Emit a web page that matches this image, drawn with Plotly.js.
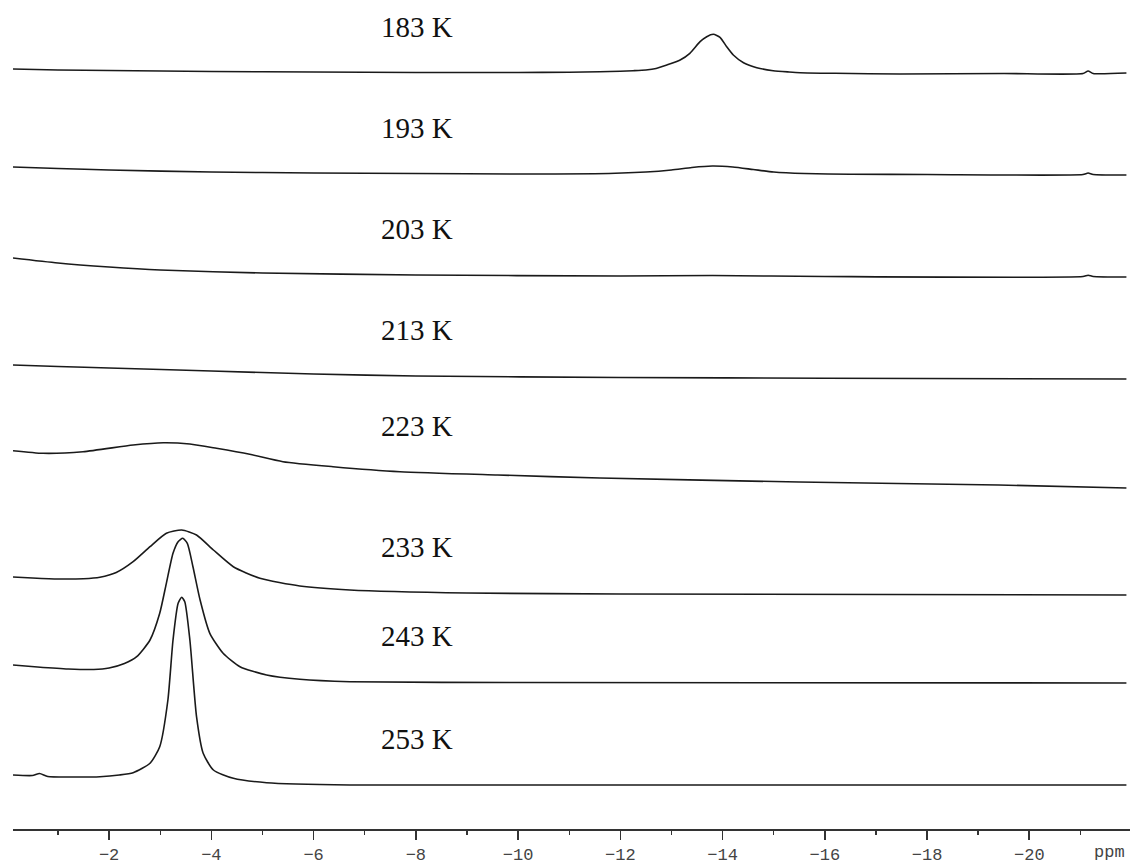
<!DOCTYPE html>
<html>
<head>
<meta charset="utf-8">
<script src="https://cdn.plot.ly/plotly-3.0.1.min.js"></script>
<style>
  html, body { margin: 0; padding: 0; background: #ffffff; }
  #chart { width: 1132px; height: 865px; }
</style>
</head>
<body>
<div id="chart"></div>
<script>
// ---- Data (chemical shift in ppm, intensity in arbitrary units) ----
const temperatures = ["183 K", "193 K", "203 K", "213 K", "223 K", "233 K", "243 K", "253 K"];

// vertical stacking offsets of each spectrum (arbitrary units)
const offsets = [756, 654, 552, 450, 341, 234, 146, 44];

const ppm183 = [-0.12, -1, -2, -4, -6, -8, -10, -11.0, -11.6, -12.0, -12.25, -12.5, -12.7, -12.91, -13.17, -13.36, -13.56, -13.69, -13.82, -13.95, -14.08, -14.21, -14.41, -14.67, -14.99, -15.3, -15.52, -16.2, -17.47, -19.5, -21.05, -21.15, -21.25, -21.9];
const int183 = [4, 3, 2.5, 1.5, 1, 0.5, 0.5, 0.8, 1.3, 1.8, 2.3, 3.0, 4.5, 8, 13, 19.7, 31.3, 36.3, 38.7, 35.7, 26.3, 18, 10.3, 5.3, 2.3, 1.0, 0.3, -0.3, -1, -0.5, -0.5, 2, -0.5, 0];

const ppm193 = [-0.12, -1, -2, -4, -6, -8, -10, -11.5, -12.5, -13.0, -13.4, -13.8, -14.2, -14.6, -15.0, -15.6, -16.5, -18, -21.05, -21.15, -21.25, -21.9];
const int193 = [8, 6.5, 5, 3, 2, 1.5, 1, 1.2, 3, 5, 7.5, 9, 8, 5.5, 3, 1.5, 0.8, 0.5, 0.5, 2, 0.5, 0];

const ppm203 = [-0.12, -1, -2, -3, -5, -8, -12, -13.8, -16, -21.05, -21.15, -21.25, -21.9];
const int203 = [19, 14, 10, 7, 4, 2, 1, 1.5, 0.5, 0.5, 1.8, 0.5, 0];

const ppm213 = [-0.12, -1, -2, -4, -6, -8, -12, -16, -21.9];
const int213 = [14, 12.5, 11, 8, 5, 3, 1.5, 0.8, 0];

const ppm223 = [-0.12, -0.71, -1.49, -2.47, -3.06, -3.58, -4.10, -4.75, -5.40, -6.38, -7.69, -9.6, -11.6, -15.5, -19.4, -21.9];
const int223 = [37.3, 34.7, 36.3, 43, 45.3, 44, 39.7, 33.7, 26.3, 21.3, 16.3, 13, 10, 6, 3, 0];

const ppm233 = [-0.12, -0.5, -1, -1.5, -1.82, -2.14, -2.47, -2.80, -3.12, -3.42, -3.71, -4.04, -4.43, -4.95, -5.73, -6.71, -9, -12, -21.9];
const int233 = [18, 17, 16, 16.3, 17.8, 22.5, 33.3, 48.3, 61.7, 65, 60, 45, 28.3, 16.7, 9, 5, 2, 1, 0];

const ppm243 = [-0.12, -0.6, -1.2, -1.7, -2.0, -2.3, -2.54, -2.80, -2.99, -3.12, -3.25, -3.35, -3.44, -3.53, -3.64, -3.78, -3.97, -4.23, -4.56, -5.08, -5.73, -6.71, -10, -21.9];
const int243 = [18, 16, 14, 13.5, 15, 19.5, 26.3, 43, 69.7, 99.7, 129.7, 141.3, 144.7, 139.7, 116.3, 83, 49.7, 29.7, 16.3, 8, 3.7, 1.3, 0.5, 0];

const ppm253 = [-0.12, -0.5, -0.64, -0.8, -1.3, -1.82, -2.2, -2.47, -2.80, -2.99, -3.15, -3.25, -3.35, -3.42, -3.48, -3.58, -3.71, -3.84, -4.04, -4.43, -5.08, -6.71, -21.9];
const int253 = [10, 9.5, 11.5, 8.5, 8, 8.3, 10, 12.3, 21.7, 38.3, 85, 145, 181.7, 187.7, 183.3, 145, 68.3, 31.7, 15, 6.7, 2.3, 0, 0];

const ppmSets = [ppm183, ppm193, ppm203, ppm213, ppm223, ppm233, ppm243, ppm253];
const intSets = [int183, int193, int203, int213, int223, int233, int243, int253];

// axis tick labels
const tickValues = [-2, -4, -6, -8, -10, -12, -14, -16, -18, -20];
const axisUnit = "ppm";

// ---- Build traces ----
const traces = temperatures.map((t, i) => ({
  type: "scatter",
  mode: "lines",
  name: t,
  x: ppmSets[i],
  y: intSets[i].map(v => v + offsets[i]),
  line: { color: "#1a1a1a", width: 1.6, shape: "spline", smoothing: 0.6 },
  hoverinfo: "skip",
  showlegend: false
}));

// label anchor: ppm position of the temperature labels
const labelPpm = -8.02;
function nearestIntensity(i, p) {
  const xs = ppmSets[i];
  let best = 0, d = Infinity;
  xs.forEach((x, k) => { const dd = Math.abs(x - p); if (dd < d) { d = dd; best = k; } });
  return intSets[i][best];
}

const annotations = temperatures.map((t, i) => ({
  x: labelPpm,
  y: offsets[i] + nearestIntensity(i, labelPpm) + 46,
  xref: "x", yref: "y",
  text: t,
  showarrow: false,
  xanchor: "center", yanchor: "middle",
  font: { family: "Liberation Serif, Times New Roman, serif", size: 29, color: "#111" }
}));

annotations.push({
  x: 1, xref: "paper", xanchor: "right", xshift: -3,
  y: 0, yref: "paper", yanchor: "top", yshift: -12,
  text: axisUnit, showarrow: false,
  font: { family: "Liberation Mono, Courier New, monospace", size: 17, color: "#444" }
});

const layout = {
  width: 1132,
  height: 865,
  margin: { l: 13, r: 2, t: 0, b: 36, pad: 0 },
  paper_bgcolor: "#ffffff",
  plot_bgcolor: "#ffffff",
  showlegend: false,
  xaxis: {
    range: [-0.12, -21.97],
    showgrid: false,
    zeroline: false,
    showline: true,
    linecolor: "#333",
    linewidth: 1.6,
    ticks: "outside",
    ticklen: 9,
    tickwidth: 1.6,
    tickcolor: "#333",
    tickmode: "array",
    tickvals: tickValues,
    ticktext: tickValues.map(v => "\u2212" + Math.abs(v)),
    ticklabelstandoff: 0,
    tickfont: { family: "Liberation Mono, Courier New, monospace", size: 17, color: "#444" },
    minor: { dtick: 1, tick0: 0, ticks: "outside", ticklen: 4, tickwidth: 1.4, tickcolor: "#333", showgrid: false }
  },
  yaxis: {
    range: [0, 829],
    visible: false,
    showgrid: false,
    zeroline: false,
    fixedrange: true
  },
  annotations: annotations
};

Plotly.newPlot("chart", traces, layout, { displayModeBar: false, staticPlot: true });
</script>
</body>
</html>
